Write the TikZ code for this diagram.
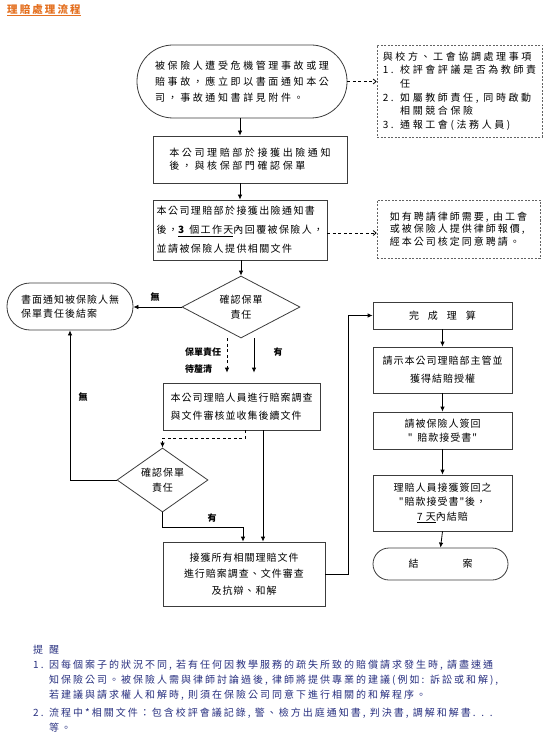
\documentclass[tikz,border=0pt]{standalone}
\usepackage{fontspec}
\setmainfont{Noto Sans CJK TC}
\newfontfamily\fA[LetterSpace=26]{Noto Sans CJK TC}
\newfontfamily\fB[LetterSpace=20]{Noto Sans CJK TC}
\newfontfamily\fD[LetterSpace=14]{Noto Sans CJK TC}
\newfontfamily\fC[LetterSpace=10]{Noto Sans CJK TC}
\usetikzlibrary{shapes.geometric,arrows.meta,calc}
\definecolor{ttl}{RGB}{228,112,32}
\definecolor{navy}{RGB}{40,48,128}
\definecolor{edge}{RGB}{60,60,60}
\begin{document}
\begin{tikzpicture}[x=1pt,y=-1pt,
  box/.style={draw=edge, line width=0.8pt, inner sep=0pt, align=left},
  term/.style={box, rounded corners=#1},
  dbox/.style={draw=edge!80, line width=0.6pt, dash pattern=on 2pt off 1.5pt, inner sep=0pt, align=left},
  dia/.style={draw=edge, line width=0.8pt, diamond, aspect=1.5, inner sep=0pt, align=center},
  arr/.style={draw=black, line width=0.8pt, -{Latex[length=5pt,width=4.5pt]}},
  darr/.style={draw=black, line width=0.8pt, dash pattern=on 3pt off 2.5pt, -{Straight Barb[length=3pt,width=5pt]}},
  darrf/.style={draw=black, line width=0.8pt, dash pattern=on 3pt off 2.5pt, -{Latex[length=5pt,width=4.5pt]}},
  lbl/.style={font=\fontsize{9}{11}\selectfont\bfseries, inner sep=0pt},
]
\fill[white] (0,0) rectangle (550,743);
\useasboundingbox (0,0) rectangle (550,743);

% title
\node[anchor=west, font=\fontsize{10.5}{12}\selectfont\bfseries\fB, text=ttl, inner sep=0pt] (title) at (7,10) {\underline{理賠處理流程}};

% left flow
\node[term=36pt, minimum width=210pt, minimum height=73pt, font=\fontsize{10}{16}\selectfont\fA] (start) at (242,81.5) {被保險人遭受危機管理事故或理\\賠事故，應立即以書面通知本公\\司，事故通知書詳見附件。};

\node[dbox, minimum width=165pt, minimum height=92pt, font=\fontsize{10}{13.6}\selectfont\fA] (note1) at (459.5,91) {與校方、工會協調處理事項\\1. 校評會評議是否為教師責\\\phantom{1. }任\\2. 如屬教師責任, 同時啟動\\\phantom{2. }相關競合保險\\3. 通報工會(法務人員)};

\node[box, minimum width=194pt, minimum height=47pt, font=\fontsize{10}{13}\selectfont\fA] (b2) at (250,159.5) {本公司理賠部於接獲出險通知\\後，與核保部門確認保單};

\node[box, minimum width=174pt, minimum height=60pt, font=\fontsize{10}{19}\selectfont\fD] (b3) at (240,230) {本公司理賠部於接獲出險通知書\\後，\underline{\textbf{3} 個工作天}內回覆被保險人，\\並請被保險人提供相關文件};

\node[dbox, minimum width=163pt, minimum height=58pt, font=\fontsize{10}{12.5}\selectfont\fB] (note2) at (458.5,229) {如有聘請律師需要, 由工會\\或被保險人提供律師報價,\\經本公司核定同意聘請。};

\node[dia, minimum width=118pt, minimum height=62pt, font=\fontsize{10}{15}\selectfont\fC] (d1) at (241,307) {確認保單\\責任};

\node[term=23pt, minimum width=126pt, minimum height=47pt, font=\fontsize{10}{14}\selectfont\fC] (lt) at (70,306.5) {書面通知被保險人無\\保單責任後結案};

\node[box, minimum width=157pt, minimum height=47pt, font=\fontsize{10}{18}\selectfont\fC] (b4) at (241.5,406.5) {本公司理賠人員進行賠案調查\\與文件審核並收集後續文件};

\node[dia, minimum width=91pt, minimum height=64pt, font=\fontsize{10}{15}\selectfont\fC] (d2) at (162.5,480) {確認保單\\責任};

\node[box, align=center, minimum width=162pt, minimum height=64pt, font=\fontsize{10}{16.5}\selectfont\fC] (b5) at (244,574) {接獲所有相關理賠文件\\進行賠案調查、文件審查\\及抗辯、和解};

% right column
\node[box, align=center, minimum width=139pt, minimum height=27pt, font=\fontsize{10}{14}\selectfont\fC] (r1) at (442.5,315.5) {完\hspace{0.9em}成\hspace{0.9em}理\hspace{0.9em}算};
\node[box, align=center, minimum width=139pt, minimum height=46pt, font=\fontsize{10}{18}\selectfont\fC] (r2) at (442.5,370) {請示本公司理賠部主管並\\獲得結賠授權};
\node[box, align=center, minimum width=139pt, minimum height=37pt, font=\fontsize{10}{14}\selectfont\fC] (r3) at (442.5,430.5) {請被保險人簽回\\"\hspace{0.5em}賠款接受書"};
\node[box, align=center, minimum width=139pt, minimum height=56pt, font=\fontsize{10}{14.5}\selectfont\fC] (r4) at (442.5,503) {理賠人員接獲簽回之\\"賠款接受書"後，\\\underline{7 天}內結賠};
\node[term=16pt, align=center, minimum width=135pt, minimum height=32pt, font=\fontsize{10}{14}\selectfont\fC] (r5) at (440.5,564) {結\hspace{4.4em}案};

% helper columns
\coordinate (sp) at (240,0);
\coordinate (dx) at (227,0);
\coordinate (sx) at (254,0);
\coordinate (bx) at (245,0);
\coordinate (cx) at (263,0);
\coordinate (ex) at (243,0);
\coordinate (rx) at (348,0);
\coordinate (ny) at (0,233);

% connectors
\draw[arr] (start.south -| sp) -- (b2.north -| sp);
\draw[arr] (b2.south -| sp) -- (b3.north -| sp);
\draw[arr] (b3.south -| d1.north) -- (d1.north);
\draw[darr] (start.east) -- (start.east -| note1.west);
\draw[darr] (b3.east |- ny) -- (note2.west |- ny);
\draw[arr] (d1.west) -- (lt.east |- d1.west);
\draw[darrf, shorten >=10pt] (d1.south -| dx) -- (b4.north -| dx);
\draw[arr, shorten >=10pt] (d1.south -| sx) -- (b4.north -| sx);
\draw[darrf] (b4.south -| bx) -- ++(0,8) -| (d2.north);
\draw[arr] (b4.south -| cx) -- (b5.north -| cx);
\draw[arr] (d2.south) -- ++(0,15) -| (b5.north -| ex);
\draw[arr] (d2.west) -| (lt.south);
\draw[arr] (b5.east) -- (b5.east -| rx) |- (r1.west);
\draw[arr] (r1.south) -- (r2.north);
\draw[arr] (r2.south) -- (r3.north);
\draw[arr] (r3.south) -- (r4.north);
\draw[arr] (r4.south) -- (r5.north);

% labels
\node[lbl] (no1) at (155,297) {無};
\node[lbl, anchor=west] (pend1) at (185,352) {保單責任};
\node[lbl, anchor=west] (pend2) at (185,369) {待釐清};
\node[lbl] (yes1) at (278,352) {有};
\node[lbl] (no2) at (83,397) {無};
\node[lbl] (yes2) at (212,518) {有};

% reminder
\node[anchor=north west, align=left, text=navy, font=\fontsize{10}{15}\selectfont\fB, inner sep=0pt] (memo) at (33,645) {提\hspace{0.6em}醒\\1. 因每個案子的狀況不同, 若有任何因教學服務的疏失所致的賠償請求發生時, 請盡速通\\\phantom{1. }知保險公司。被保險人需與律師討論過後, 律師將提供專業的建議(例如: 訴訟或和解),\\\phantom{1. }若建議與請求權人和解時, 則須在保險公司同意下進行相關的和解程序。\\[3pt]2. 流程中*相關文件：包含校評會議記錄, 警、檢方出庭通知書, 判決書, 調解和解書. . .\\\phantom{2. }等。};
\end{tikzpicture}
\end{document}
